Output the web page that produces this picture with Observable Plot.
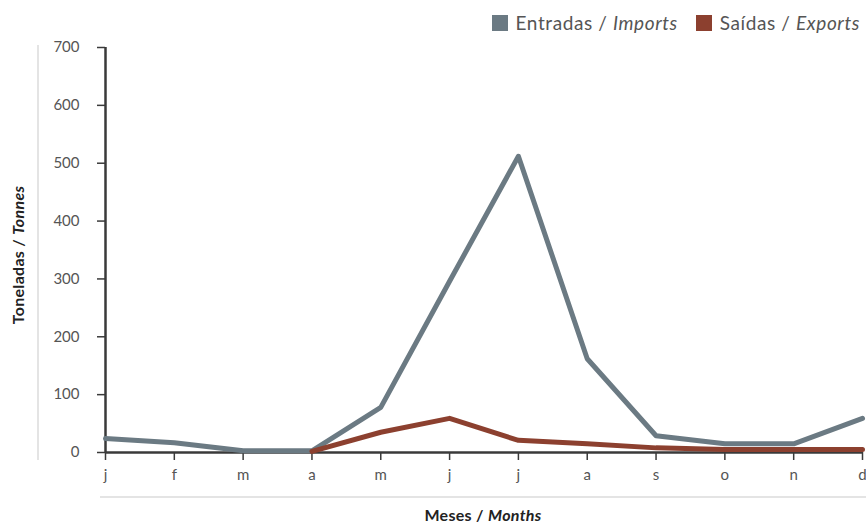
<!DOCTYPE html>
<html><head><meta charset="utf-8">
<script src="https://cdn.jsdelivr.net/npm/d3@7"></script>
<script src="https://cdn.jsdelivr.net/npm/@observablehq/plot@0.6"></script>
<style>
body{margin:0;background:#fff;font-family:Lato,"Open Sans",sans-serif;}
#wrap{position:relative;width:866px;height:525px;overflow:hidden;}
#chart{position:absolute;left:0;top:0;}
.legend{position:absolute;right:6px;top:11px;display:flex;align-items:center;font-size:19px;letter-spacing:0.6px;color:#555;}
.legend .item{display:flex;align-items:center;margin-left:18px;}
.legend .sw{width:16px;height:16px;margin-right:8px;}
.ytitle{position:absolute;left:18px;top:255px;transform:translate(-50%,-50%) rotate(-90deg);white-space:nowrap;font-weight:700;font-size:16px;line-height:16px;letter-spacing:0.3px;color:#222;}
.xtitle{position:absolute;left:483px;top:515px;transform:translate(-50%,-50%);white-space:nowrap;font-weight:700;font-size:16px;line-height:16px;letter-spacing:0.3px;color:#222;}
.vline{position:absolute;left:37px;top:45px;width:1.5px;height:415px;background:#e4e4e4;}
.hline{position:absolute;left:100px;top:496px;width:766px;height:1.5px;background:#e4e4e4;}
</style></head>
<body><div id="wrap">
<div class="vline"></div><div class="hline"></div>
<div id="chart"></div>
<div class="legend" id="legend"></div>
<div class="ytitle">Toneladas / <i>Tonnes</i></div>
<div class="xtitle">Meses / <i>Months</i></div>
</div>
<script>
const months = ["j","f","m","a","m","j","j","a","s","o","n","d"];
const imports = [24,17,3,3,78,296,512,162,29,15,15,59];
const exportsV = [null,null,null,2,35,59,21,15,8,5,5,5];
const yTicks = [0,100,200,300,400,500,600,700];
const seriesNames = ["Entradas / <i>Imports</i>","Saídas / <i>Exports</i>"];
const colors = ["#6b7a83","#8c402f"];

const impRows = imports.map((v,i)=>({i,v}));
const expRows = exportsV.map((v,i)=>({i,v})).filter(d=>d.v!==null);

const chart = Plot.plot({
  width:866, height:525,
  marginLeft:105, marginRight:4, marginTop:47, marginBottom:73,
  style:{fontFamily:"Lato, 'Open Sans', sans-serif", fontSize:"15px", color:"#555", background:"transparent", overflow:"visible"},
  x:{type:"linear", domain:[0,11]},
  y:{domain:[0,700]},
  marks:[
    Plot.axisY(yTicks,{tickSize:8, tickPadding:18, stroke:"#3a3a3a", strokeWidth:1.5, label:null, fill:"#555", fontSize:15}),
    Plot.axisX(d3.range(12),{tickSize:8, tickPadding:9, tickFormat:i=>months[i], stroke:"#3a3a3a", strokeWidth:1.5, label:null, fill:"#555", fontSize:15}),
    Plot.ruleX([0],{y1:0, y2:700, stroke:"#3a3a3a", strokeWidth:2.5}),
    Plot.ruleY([0],{stroke:"#3a3a3a", strokeWidth:2.5}),
    Plot.line(impRows,{x:"i", y:"v", stroke:colors[0], strokeWidth:5}),
    Plot.line(expRows,{x:"i", y:"v", stroke:colors[1], strokeWidth:5})
  ]
});
document.getElementById("chart").appendChild(chart);

const leg = document.getElementById("legend");
seriesNames.forEach((n,k)=>{
  const it = document.createElement("div"); it.className="item";
  it.innerHTML = `<span class="sw" style="background:${colors[k]}"></span><span>${n}</span>`;
  leg.appendChild(it);
});
</script>
</body></html>
